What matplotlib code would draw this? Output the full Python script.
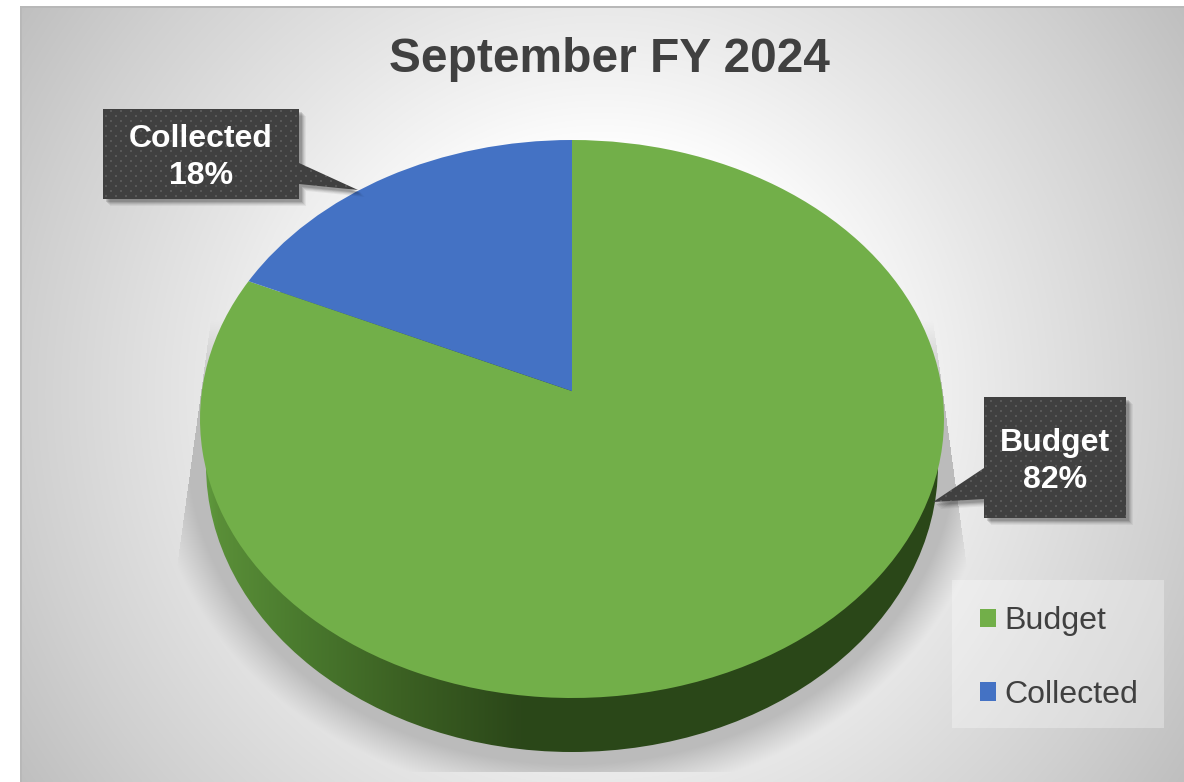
import numpy as np
import matplotlib
matplotlib.use("Agg")
import matplotlib.pyplot as plt
from matplotlib.patches import Ellipse, Polygon, Patch, Rectangle
from matplotlib.transforms import Transform

plt.rcParams['font.family'] = ['Liberation Sans', 'DejaVu Sans']

title = "September FY 2024"
categories = ["Budget", "Collected"]
values = [81.8, 18.2]
colors = ["#72AF49", "#4472C4"]

W, H = 1184, 782
CX, CY, RX, RY, TILT = 572.0, 419.0, 372.0, 279.0, 0.1


class Tilted(Transform):
    """Unit-circle pie to the tilted pie on the page (pixel data coordinates)."""
    input_dims = output_dims = 2
    is_separable = False
    has_inverse = False

    def transform_non_affine(self, values):
        v = np.asarray(values, dtype=float)
        x, y = v[:, 0], v[:, 1]
        w = 1 + TILT * y
        k = np.sqrt(1 - TILT ** 2)
        return np.column_stack([CX + RX * k * x / w, CY - RY * (y + TILT) / w])


fig = plt.figure(figsize=(W / 100, H / 100), dpi=100, facecolor="white")
ax = fig.add_axes([0, 0, 1, 1])

# pie from the data
wedges, _ = ax.pie(values, colors=colors, startangle=90, counterclock=False,
                   wedgeprops=dict(linewidth=0, zorder=3))
ax.set_aspect("auto")
ax.set_xlim(0, W)
ax.set_ylim(H, 0)
ax.axis("off")
for w in wedges:
    w.set_transform(Tilted() + ax.transData)

# background with soft shadow
yy, xx = np.mgrid[0:H, 0:W] + 0.5
d = np.hypot(xx - 602, yy - 394)
grey = np.interp(d, [0, 250, 300, 400, 580, 700], [255, 253, 245, 231, 208, 191])

sx, sy, srx, sry = 572.0, 446.0, 372.0, 306.0
px, py = (xx - sx) / srx, (yy - sy) / sry
rho = np.sqrt(px ** 2 + py ** 2)
grad = np.sqrt((px / srx) ** 2 + (py / sry) ** 2) / np.maximum(rho, 1e-6)
dist = (rho - 1) / np.maximum(grad, 1e-9)
alpha = np.clip(1 - (dist - 12) / 36, 0, 1)
edge = (xx - sx) / (372 + (yy - 400) * 24 / 175)
alpha[(np.abs(edge) > 1) & (yy < 575)] = 0
alpha *= np.clip((yy - 320) / 80, 0, 1)
alpha[yy > 772] = 0
grey = grey * (1 - alpha) + 187 * alpha

grey[:, :20] = 255
grey[:6, :] = 255
grey[6:8, 20:] = 184
grey[6:, 20:22] = 184
ax.imshow(np.dstack([grey] * 3).astype(np.uint8), extent=(0, W, H, 0),
          aspect="auto", zorder=0, interpolation="bilinear")

# pie side wall
wall_x = np.arange(W)
wall_rgb = np.column_stack([
    np.interp(wall_x, [200, 217, 300, 400, 520, 1000], c)
    for c in ([0x62, 0x5A, 0x4A, 0x3C, 0x2B, 0x2A],
              [0xA0, 0x8F, 0x7A, 0x61, 0x47, 0x47],
              [0x40, 0x38, 0x2E, 0x23, 0x19, 0x18])]).astype(np.uint8)
wall_im = ax.imshow(wall_rgb[np.newaxis, :, :], extent=(0, W, H, 0), aspect="auto", zorder=1)
wall_clip = Ellipse((572, 465), 2 * 366, 2 * 287, transform=ax.transData, fc="none", ec="none")
ax.add_patch(wall_clip)
wall_im.set_clip_path(wall_clip)
ax.set_xlim(0, W)
ax.set_ylim(H, 0)

# callouts
dots = np.full((H, W, 3), 0x40, dtype=np.uint8)
ix, iy = np.meshgrid(np.arange(W), np.arange(H))
mask = ((ix % 10 < 2) & (iy % 10 < 2)) | (((ix + 5) % 10 < 2) & ((iy + 5) % 10 < 2))
dots[mask] = 0x58

callouts = {
    "Collected": [(103, 109), (299, 109), (299, 163), (358, 190), (299, 184), (299, 199), (103, 199)],
    "Budget": [(984, 397), (1126, 397), (1126, 518), (984, 518), (984, 499), (933, 502), (984, 468)],
}
centers = {"Collected": (201, 157.5), "Budget": (1055, 461.5)}

for name, val in zip(categories, values):
    pts = np.array(callouts[name], dtype=float)
    for off, a in [(7, .05), (6, .06), (5, .08), (4, .10), (3, .12)]:
        ax.add_patch(Polygon(pts + [off, off], closed=True, fc="black", ec="none", alpha=a, zorder=4))
    clip = Polygon(pts, closed=True, fc="none", ec="none", transform=ax.transData)
    ax.add_patch(clip)
    im = ax.imshow(dots, extent=(0, W, H, 0), aspect="auto", zorder=5, interpolation="nearest")
    im.set_clip_path(clip)
    ax.text(*centers[name], f"{name}\n{round(val)}%", color="white", fontsize=23, fontweight="bold",
            ha="center", va="center", linespacing=1.27, zorder=6)

ax.set_xlim(0, W)
ax.set_ylim(H, 0)

ax.text(609.5, 59, title, color="#404040", fontsize=34.5, fontweight="bold",
        ha="center", va="center", zorder=6)

ax.add_patch(Rectangle((952, 580), 212, 148, fc="white", ec="none", alpha=0.3, zorder=7))
handles = [Patch(facecolor=c, edgecolor="none", label=n) for n, c in zip(categories, colors)]
leg = ax.legend(handles=handles, loc="lower right", bbox_to_anchor=(1138, 710),
                bbox_transform=ax.transData, borderaxespad=0, fontsize=23.1,
                handlelength=0.5, handleheight=0.5, handletextpad=0.25,
                labelspacing=1.36, borderpad=0, frameon=False, labelcolor="#404040")
leg.set_zorder(8)

fig.savefig("out.png", dpi=100, facecolor="white")
